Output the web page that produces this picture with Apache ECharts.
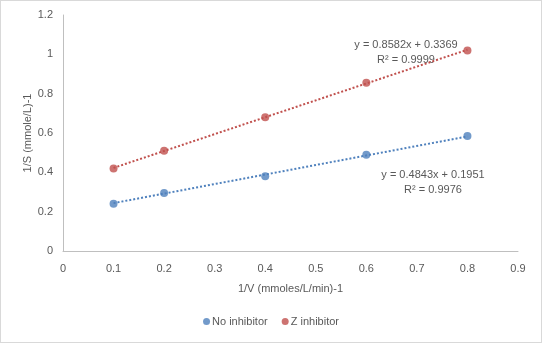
<!DOCTYPE html>
<html>
<head>
<meta charset="utf-8">
<script src="https://cdn.jsdelivr.net/npm/echarts@6/dist/echarts.min.js"></script>
<style>
  html, body { margin: 0; padding: 0; background: #fff; }
  #chart { width: 540px; height: 341px; border: 1px solid #d9d9d9; }
</style>
</head>
<body>
<div id="chart"></div>
<script>
// 1/V values
const xValues = [0.1, 0.2, 0.4, 0.6, 0.8];
// 1/S values
const noInhibitor = [0.24, 0.295, 0.38, 0.49, 0.585];
const zInhibitor = [0.42, 0.51, 0.68, 0.855, 1.02];
// trendline end points
const noTrend = [[0.1, 0.2435], [0.8, 0.5825]];
const zTrend = [[0.1, 0.4227], [0.8, 1.0235]];
const noLabel = ['y = 0.4843x + 0.1951', 'R² = 0.9976'];
const zLabel = ['y = 0.8582x + 0.3369', 'R² = 0.9999'];

const blue = '#4f81bd';
const red = '#c0504d';
const textColor = '#595959';
const font = 'Liberation Sans, Arial, sans-serif';

const pairs = (ys) => xValues.map((x, i) => [x, ys[i]]);

const chart = echarts.init(document.getElementById('chart'));
chart.setOption({
  animation: false,
  textStyle: { fontFamily: font },
  grid: { left: 62, right: 23, top: 14, bottom: 91 },
  xAxis: {
    type: 'value',
    min: 0,
    max: 0.9,
    interval: 0.1,
    name: '1/V (mmoles/L/min)-1',
    nameLocation: 'middle',
    nameGap: 32,
    nameTextStyle: { color: textColor, fontSize: 11, fontFamily: font },
    axisLine: { show: true, lineStyle: { color: '#bfbfbf' } },
    axisTick: { show: false },
    splitLine: { show: false },
    axisLabel: { color: textColor, fontSize: 11, margin: 12 },
  },
  yAxis: {
    type: 'value',
    min: 0,
    max: 1.2,
    interval: 0.2,
    name: '1/S (mmole/L)-1',
    nameLocation: 'middle',
    nameGap: 30,
    nameMoveOverlap: false,
    nameTextStyle: { color: textColor, fontSize: 11, fontFamily: font },
    axisLine: { show: true, lineStyle: { color: '#bfbfbf' } },
    axisTick: { show: false },
    splitLine: { show: false },
    axisLabel: { color: textColor, fontSize: 11, margin: 10 },
  },
  legend: {
    bottom: 10,
    left: 'center',
    icon: 'circle',
    itemWidth: 7,
    itemHeight: 7,
    itemGap: 14,
    textStyle: { color: textColor, fontSize: 11, padding: [0, 0, 0, -3] },
    data: ['No inhibitor', 'Z inhibitor'],
  },
  series: [
    {
      name: 'No inhibitor',
      type: 'scatter',
      symbolSize: 8,
      itemStyle: { color: blue },
      data: pairs(noInhibitor),
      z: 3,
    },
    {
      name: 'Z inhibitor',
      type: 'scatter',
      symbolSize: 8,
      itemStyle: { color: red },
      data: pairs(zInhibitor),
      z: 3,
    },
    {
      type: 'line',
      symbol: 'none',
      lineStyle: { color: blue, type: 'dotted', width: 2 },
      data: noTrend,
      z: 2,
    },
    {
      type: 'line',
      symbol: 'none',
      lineStyle: { color: red, type: 'dotted', width: 2 },
      data: zTrend,
      z: 2,
    },
  ],
  graphic: [
    {
      type: 'text',
      x: 405,
      y: 36,
      style: { text: zLabel.join('\n'), align: 'center', fill: textColor, font: '11px ' + font, lineHeight: 15 },
    },
    {
      type: 'text',
      x: 432,
      y: 166,
      style: { text: noLabel.join('\n'), align: 'center', fill: textColor, font: '11px ' + font, lineHeight: 15 },
    },
  ],
});
</script>
</body>
</html>
